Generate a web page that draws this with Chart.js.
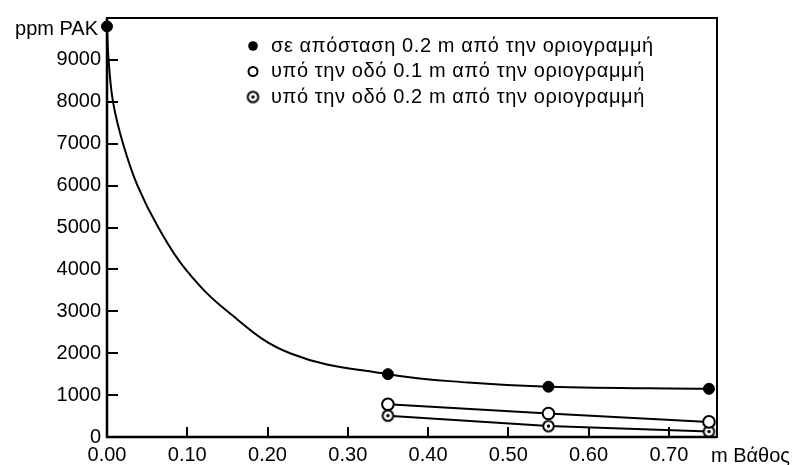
<!DOCTYPE html>
<html>
<head>
<meta charset="utf-8">
<script src="https://cdn.jsdelivr.net/npm/chart.js@4"></script>
<style>
    html, body { margin: 0; padding: 0; background: #fff; }
    #wrap { width: 797px; height: 465px; }
</style>
</head>
<body>
<div id="wrap"><canvas id="pakChart" width="797" height="465"></canvas></div>
<script>
// measured depths below the surface, m
const depthsRoadside = [0.00, 0.35, 0.55, 0.75];
const depthsRoad = [0.35, 0.55, 0.75];

// measured PAK concentration, ppm
const pakRoadside02 = [9800, 1500, 1200, 1150];
const pakRoad01 = [780, 560, 360];
const pakRoad02 = [510, 260, 130];

// hand-drawn decay curve through the roadside measurements
const curveDepths = [0.000, 0.002, 0.0075, 0.020, 0.038, 0.064, 0.098, 0.150, 0.228, 0.35, 0.45, 0.55, 0.75];
const curvePak = [9800, 9000, 8000, 7000, 6000, 5000, 4000, 3000, 2000, 1500, 1300, 1200, 1150];

const seriesLabels = [
    "σε απόσταση 0.2 m από την οριογραμμή",
    "υπό την οδό 0.1 m από την οριογραμμή",
    "υπό την οδό 0.2 m από την οριογραμμή"
];

const xTickStep = 0.1;
const yTickStep = 1000;

const FONT = "Liberation Sans, Arial, Helvetica, sans-serif";

// open circle with a dot in the middle
function dottedCircle() {
    const c = document.createElement("canvas");
    c.width = 15;
    c.height = 15;
    const g = c.getContext("2d");
    g.fillStyle = "#fff";
    g.strokeStyle = "#000";
    g.lineWidth = 2;
    g.beginPath();
    g.arc(7.5, 7.5, 5.3, 0, Math.PI * 2);
    g.fill();
    g.stroke();
    g.fillStyle = "#000";
    g.beginPath();
    g.arc(7.5, 7.5, 1.7, 0, Math.PI * 2);
    g.fill();
    return c;
}
const dotMarker = dottedCircle();

function toPoints(xs, ys) {
    return xs.map((x, i) => ({ x: x, y: ys[i] }));
}

// frame, inward ticks, axis titles and the legend
const decorations = {
    id: "decorations",
    afterDatasetsDraw(chart) {
        const ctx = chart.ctx;
        const a = chart.chartArea;
        const xs = chart.scales.x;
        const ys = chart.scales.y;
        ctx.save();
        ctx.strokeStyle = "#000";
        ctx.lineWidth = 2;
        ctx.strokeRect(a.left, a.top, a.right - a.left, a.bottom - a.top);
        ctx.lineWidth = 2.5;
        ctx.beginPath();
        ctx.moveTo(a.left, a.top);
        ctx.lineTo(a.left, a.bottom);
        ctx.lineTo(a.right, a.bottom);
        ctx.stroke();

        ctx.lineWidth = 2;
        ctx.beginPath();
        ys.ticks.forEach(t => {
            if (t.value <= 0 || t.value >= ys.max) return;
            const y = Math.round(ys.getPixelForValue(t.value));
            ctx.moveTo(a.left, y);
            ctx.lineTo(a.left + 11, y);
        });
        xs.ticks.forEach(t => {
            if (t.value <= 0) return;
            const x = Math.round(xs.getPixelForValue(t.value));
            ctx.moveTo(x, a.bottom);
            ctx.lineTo(x, a.bottom - 10);
        });
        ctx.stroke();

        ctx.fillStyle = "#000";
        ctx.font = "20px " + FONT;
        ctx.textBaseline = "middle";
        ctx.textAlign = "right";
        ctx.fillText("ppm PAK", a.left - 9, 29);
        ctx.textAlign = "left";
        ctx.fillText("m Βάθος", a.right - 6, 456);

        // legend
        const lx = 253, ly = 46, lh = 25.5;
        ctx.letterSpacing = "0.6px";
        chart.data.datasets.filter(ds => ds.label).forEach((ds, i) => {
            const y = ly + i * lh;
            if (i === 0) {
                ctx.beginPath();
                ctx.arc(lx, y, 4.8, 0, Math.PI * 2);
                ctx.fill();
            } else if (i === 1) {
                ctx.lineWidth = 2;
                ctx.beginPath();
                ctx.arc(lx, y, 4.5, 0, Math.PI * 2);
                ctx.stroke();
            } else {
                ctx.drawImage(dotMarker, lx - 7.5, y - 7.5);
            }
            ctx.fillText(ds.label, lx + 18, y);
        });
        ctx.restore();
    }
};

new Chart(document.getElementById("pakChart"), {
    type: "scatter",
    data: {
        datasets: [
            {
                label: seriesLabels[0],
                data: toPoints(depthsRoadside, pakRoadside02),
                showLine: false,
                pointRadius: 5.5,
                pointBackgroundColor: "#000",
                pointBorderColor: "#000"
            },
            {
                label: seriesLabels[1],
                data: toPoints(depthsRoad, pakRoad01),
                showLine: true,
                borderColor: "#000",
                borderWidth: 2,
                pointRadius: 5.8,
                pointBorderWidth: 2,
                pointBackgroundColor: "#fff",
                pointBorderColor: "#000"
            },
            {
                label: seriesLabels[2],
                data: toPoints(depthsRoad, pakRoad02),
                showLine: true,
                borderColor: "#000",
                borderWidth: 2,
                pointStyle: dotMarker
            },
            {
                label: "",
                data: toPoints(curveDepths, curvePak),
                showLine: true,
                tension: 0.4,
                borderColor: "#000",
                borderWidth: 2,
                pointRadius: 0
            }
        ]
    },
    options: {
        responsive: false,
        animation: false,
        clip: false,
        layout: { padding: { left: 0, top: 18, right: 80, bottom: 0 } },
        plugins: {
            legend: { display: false },
            tooltip: { enabled: false }
        },
        scales: {
            x: {
                type: "linear",
                min: 0,
                max: 0.76,
                grid: { display: false, drawTicks: false },
                border: { display: false },
                afterFit(scale) { scale.height = 28; },
                ticks: {
                    stepSize: xTickStep,
                    includeBounds: false,
                    padding: 6,
                    color: "#000",
                    font: { family: FONT, size: 20 },
                    maxRotation: 0,
                    autoSkip: false,
                    callback: v => v.toFixed(2)
                }
            },
            y: {
                min: 0,
                max: 10000,
                grid: { display: false, drawTicks: false },
                border: { display: false },
                afterFit(scale) { scale.width = 107; },
                ticks: {
                    stepSize: yTickStep,
                    padding: 6,
                    color: "#000",
                    font: { family: FONT, size: 20 },
                    callback: v => (v >= 10000 ? "" : String(v))
                }
            }
        }
    },
    plugins: [decorations]
});
</script>
</body>
</html>
